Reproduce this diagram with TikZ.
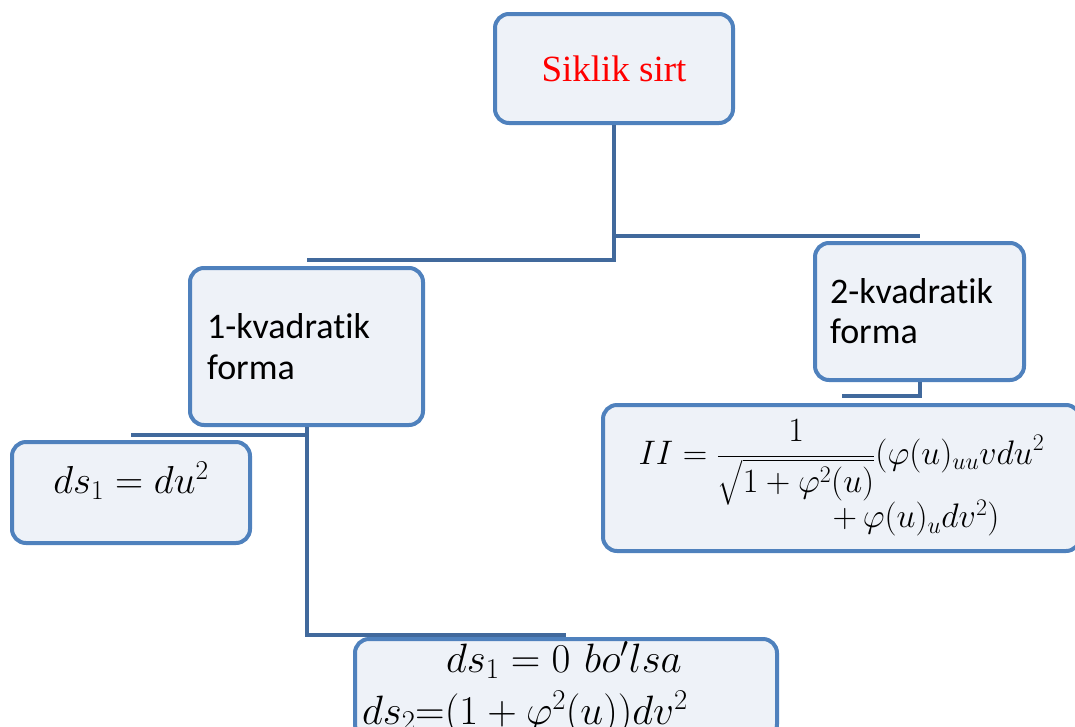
\documentclass[tikz,border=0pt]{standalone}
\usepackage{fix-cm}
\usepackage{amsmath}
\usepackage{fontspec}
\newfontfamily\timesfont{Liberation Serif}
\newfontfamily\calibrifont[Ligatures=NoCommon]{Carlito}
\usetikzlibrary{positioning}
\definecolor{boxBlue}{HTML}{4F81BD}
\definecolor{boxFill}{HTML}{EEF2F8}
\definecolor{lineBlue}{HTML}{41699C}

\begin{document}
\begin{tikzpicture}[x=1pt, y=-1pt,
    box/.style={draw=boxBlue, line width=4pt, rounded corners=14pt, fill=boxFill, inner sep=0pt},
    conn/.style={lineBlue, line width=4pt}
  ]
    \useasboundingbox (0,0) rectangle (1075,726);
    \node[box, minimum width=238pt, minimum height=109pt, text=red,
      font=\timesfont\fontsize{37}{44}\selectfont] (sik) at (614,68.5) {Siklik sirt};
    \node[box, minimum width=233pt, minimum height=157pt, text width=199pt, align=left,
      font=\calibrifont\fontsize{36}{41}\selectfont] (kv1) at (306.5,346.5) {1-kvadratik\\forma};
    \node[box, minimum width=209pt, minimum height=137pt, text width=179pt, align=left,
      font=\calibrifont\fontsize{36}{40}\selectfont] (kv2) at (919.5,311.5) {2-kvadratik\\forma};
    \node[box, minimum width=238pt, minimum height=101pt,
      font=\fontsize{39}{44}\selectfont] (ds1) at (131,492.5) {$ds_1 = du^2$\rule[-30pt]{0pt}{30pt}};
    \node[box, minimum width=477pt, minimum height=146pt, align=left,
      font=\fontsize{34}{38}\selectfont] (ii) at (841.5,478)
      {$\displaystyle II=\frac{1}{\sqrt{1+\varphi^2(u)}}(\varphi(u)_{uu}v du^2$\\[-6pt]
       \hspace*{194pt}$+\,\varphi(u)_u dv^2)$};
    \node[box, anchor=north, minimum width=422pt, text width=408pt, inner xsep=7pt, inner ysep=3pt,
      align=left, font=\fontsize{41}{52}\selectfont] (ds2) at (566,637)
      {\hspace*{84pt}$ds_1 = 0\ bo'lsa$\\$ds_2$=$(1+\varphi^2(u))dv^2$};
    % connectors
    \draw[conn] (sik.south) |- ([yshift=6pt]kv1.north);
    \draw[conn] (sik.south) |- ([yshift=5pt]kv2.north);
    \draw[conn] (kv2.south) |- ([yshift=7pt]ii.north);
    \draw[conn] (kv1.south) |- ([yshift=5pt]ds1.north);
    \draw[conn] (kv1.south) |- ([yshift=2pt]ds2.north);
  \end{tikzpicture}
\end{document}
